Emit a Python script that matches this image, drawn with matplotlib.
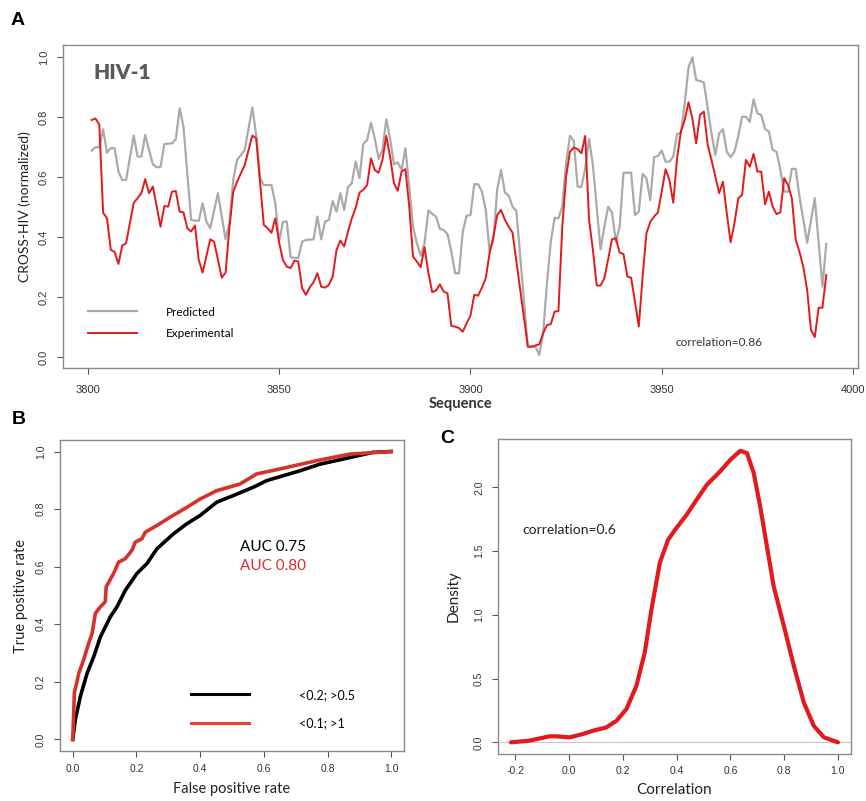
import matplotlib
matplotlib.use("Agg")
import matplotlib.pyplot as plt
from matplotlib.lines import Line2D

# ---- panel A: CROSS-HIV profile, HIV-1 region 3800-4000 ----
exp_pos = [3801, 3802, 3803, 3804, 3805, 3806, 3807, 3808, 3809, 3810, 3812, 3813, 3814, 3815,
           3816, 3817, 3819, 3820, 3821, 3822, 3823, 3824, 3825, 3826, 3827, 3828, 3829, 3830,
           3832, 3833, 3835, 3836, 3837, 3838, 3839, 3840, 3841, 3843, 3844, 3846, 3847, 3848,
           3849, 3850, 3851, 3852, 3853, 3854, 3855, 3856, 3857, 3858, 3859, 3860, 3861, 3862,
           3863, 3864, 3865, 3866, 3867, 3868, 3869, 3870, 3871, 3872, 3873, 3874, 3875, 3876,
           3877, 3878, 3879, 3880, 3881, 3882, 3883, 3884, 3885, 3886, 3887, 3888, 3889, 3890,
           3891, 3892, 3893, 3894, 3895, 3896, 3897, 3898, 3899, 3900, 3901, 3902, 3903, 3904,
           3905, 3906, 3907, 3908, 3909, 3910, 3911, 3915, 3916, 3918, 3919, 3920, 3921, 3922,
           3923, 3924, 3925, 3926, 3927, 3928, 3929, 3930, 3931, 3932, 3933, 3934, 3935, 3936,
           3937, 3938, 3939, 3940, 3941, 3942, 3943, 3944, 3945, 3946, 3947, 3948, 3949, 3950,
           3951, 3952, 3953, 3954, 3955, 3956, 3957, 3958, 3959, 3960, 3961, 3962, 3963, 3964,
           3965, 3966, 3967, 3968, 3969, 3970, 3971, 3972, 3973, 3974, 3975, 3976, 3977, 3978,
           3979, 3980, 3981, 3982, 3983, 3984, 3985, 3986, 3987, 3988, 3989, 3990, 3991, 3992,
           3993]
exp_val = [0.79, 0.795, 0.775, 0.48, 0.463, 0.357, 0.35, 0.31, 0.371, 0.379, 0.514, 0.529, 0.546, 0.593,
           0.546, 0.568, 0.434, 0.503, 0.501, 0.551, 0.553, 0.484, 0.482, 0.429, 0.418, 0.438, 0.323, 0.281,
           0.392, 0.384, 0.264, 0.281, 0.43, 0.55, 0.584, 0.612, 0.64, 0.738, 0.729, 0.44, 0.429, 0.414,
           0.462, 0.381, 0.323, 0.301, 0.296, 0.321, 0.318, 0.229, 0.207, 0.232, 0.249, 0.279, 0.234, 0.231,
           0.24, 0.268, 0.357, 0.388, 0.368, 0.418, 0.462, 0.496, 0.548, 0.557, 0.573, 0.662, 0.623, 0.614,
           0.657, 0.737, 0.668, 0.579, 0.554, 0.618, 0.626, 0.501, 0.334, 0.318, 0.299, 0.366, 0.281, 0.216,
           0.221, 0.242, 0.218, 0.212, 0.103, 0.101, 0.096, 0.084, 0.112, 0.137, 0.207, 0.204, 0.231, 0.262,
           0.346, 0.401, 0.473, 0.49, 0.457, 0.434, 0.414, 0.034, 0.034, 0.042, 0.079, 0.106, 0.109, 0.151,
           0.153, 0.434, 0.601, 0.684, 0.698, 0.693, 0.679, 0.737, 0.457, 0.357, 0.238, 0.238, 0.262, 0.326,
           0.392, 0.396, 0.348, 0.343, 0.268, 0.264, 0.184, 0.101, 0.268, 0.412, 0.45, 0.468, 0.482, 0.551,
           0.626, 0.59, 0.514, 0.662, 0.751, 0.79, 0.849, 0.795, 0.712, 0.807, 0.818, 0.707, 0.657, 0.601,
           0.546, 0.584, 0.479, 0.382, 0.446, 0.529, 0.54, 0.657, 0.634, 0.677, 0.618, 0.618, 0.509, 0.551,
           0.501, 0.476, 0.482, 0.596, 0.573, 0.529, 0.392, 0.35, 0.3, 0.223, 0.09, 0.066, 0.164, 0.164,
           0.273]

pred_pos = [3801, 3802, 3803, 3804, 3805, 3806, 3807, 3808, 3809, 3810, 3812, 3813, 3814, 3815,
            3816, 3817, 3818, 3819, 3820, 3822, 3823, 3824, 3825, 3827, 3828, 3829, 3830, 3831,
            3832, 3834, 3836, 3837, 3838, 3839, 3840, 3841, 3842, 3843, 3844, 3845, 3846, 3848,
            3849, 3850, 3851, 3852, 3853, 3855, 3856, 3857, 3859, 3860, 3861, 3862, 3863, 3864,
            3865, 3866, 3867, 3868, 3869, 3870, 3871, 3872, 3873, 3874, 3875, 3876, 3877, 3878,
            3879, 3880, 3881, 3882, 3883, 3884, 3885, 3886, 3887, 3888, 3889, 3890, 3891, 3892,
            3893, 3894, 3895, 3896, 3897, 3898, 3899, 3900, 3901, 3902, 3903, 3904, 3905, 3906,
            3907, 3908, 3909, 3910, 3911, 3912, 3915, 3916, 3917, 3918, 3919, 3920, 3921, 3922,
            3923, 3924, 3925, 3926, 3927, 3928, 3929, 3930, 3931, 3932, 3934, 3935, 3936, 3937,
            3938, 3939, 3940, 3942, 3943, 3944, 3945, 3946, 3947, 3948, 3949, 3950, 3951, 3952,
            3953, 3954, 3955, 3956, 3957, 3958, 3959, 3960, 3961, 3962, 3963, 3964, 3965, 3966,
            3967, 3968, 3969, 3970, 3971, 3972, 3973, 3974, 3975, 3976, 3977, 3978, 3979, 3980,
            3981, 3982, 3983, 3984, 3985, 3986, 3988, 3990, 3992, 3993]
pred_val = [0.688, 0.699, 0.699, 0.759, 0.681, 0.696, 0.696, 0.618, 0.59, 0.59, 0.738, 0.668, 0.668, 0.74,
            0.69, 0.642, 0.632, 0.634, 0.71, 0.712, 0.726, 0.829, 0.768, 0.457, 0.454, 0.454, 0.512, 0.451,
            0.429, 0.546, 0.392, 0.446, 0.59, 0.657, 0.673, 0.69, 0.762, 0.832, 0.74, 0.596, 0.573, 0.573,
            0.512, 0.384, 0.451, 0.451, 0.332, 0.329, 0.384, 0.39, 0.392, 0.468, 0.392, 0.451, 0.457, 0.52,
            0.484, 0.546, 0.49, 0.566, 0.579, 0.651, 0.596, 0.71, 0.723, 0.781, 0.729, 0.66, 0.69, 0.792,
            0.729, 0.642, 0.649, 0.623, 0.696, 0.568, 0.434, 0.379, 0.337, 0.379, 0.488, 0.477, 0.468, 0.427,
            0.423, 0.41, 0.351, 0.279, 0.279, 0.418, 0.471, 0.473, 0.576, 0.576, 0.551, 0.49, 0.351, 0.39,
            0.559, 0.623, 0.548, 0.538, 0.501, 0.487, 0.034, 0.034, 0.034, 0.007, 0.079, 0.246, 0.384, 0.464,
            0.462, 0.501, 0.646, 0.737, 0.721, 0.568, 0.566, 0.629, 0.726, 0.64, 0.359, 0.434, 0.501, 0.481,
            0.384, 0.434, 0.614, 0.614, 0.473, 0.484, 0.61, 0.596, 0.523, 0.666, 0.67, 0.688, 0.651, 0.651,
            0.668, 0.743, 0.748, 0.846, 0.965, 0.999, 0.923, 0.92, 0.915, 0.829, 0.745, 0.673, 0.745, 0.759,
            0.684, 0.666, 0.684, 0.737, 0.801, 0.801, 0.784, 0.859, 0.812, 0.807, 0.76, 0.751, 0.69, 0.684,
            0.623, 0.551, 0.551, 0.627, 0.627, 0.534, 0.381, 0.529, 0.234, 0.377]

seq_ticks = [3800, 3850, 3900, 3950, 4000]
a_yticks = [0.0, 0.2, 0.4, 0.6, 0.8, 1.0]

# ---- panel B: ROC curves ----
fpr_black = [0.0, 0.008, 0.024, 0.045, 0.066, 0.087, 0.118, 0.139, 0.165, 0.201, 0.233, 0.264,
             0.316, 0.358, 0.4, 0.452, 0.504, 0.567, 0.609, 0.661, 0.713, 0.776, 0.87, 0.942, 1.0]
tpr_black = [0.0, 0.069, 0.15, 0.23, 0.288, 0.357, 0.426, 0.461, 0.518, 0.576, 0.611, 0.662,
             0.714, 0.749, 0.778, 0.824, 0.847, 0.876, 0.899, 0.916, 0.933, 0.956, 0.979, 0.997, 1.0]
fpr_red = [0.0, 0.005, 0.019, 0.034, 0.05, 0.061, 0.071, 0.087, 0.102, 0.105, 0.128, 0.144, 0.165,
           0.186, 0.196, 0.217, 0.228, 0.264, 0.306, 0.358, 0.4, 0.452, 0.525, 0.577, 0.661, 0.765,
           0.87, 1.0]
tpr_red = [0.0, 0.161, 0.23, 0.276, 0.334, 0.369, 0.438, 0.461, 0.478, 0.53, 0.576, 0.616, 0.628,
           0.657, 0.685, 0.697, 0.72, 0.743, 0.772, 0.806, 0.835, 0.864, 0.887, 0.922, 0.942, 0.968,
           0.991, 1.0]
roc_labels = ["<0.2; >0.5", "<0.1; >1"]
auc_labels = ["AUC 0.75", "AUC 0.80"]
unit_ticks = [0.0, 0.2, 0.4, 0.6, 0.8, 1.0]

# ---- panel C: density of correlations ----
corr_x = [-0.215, -0.147, -0.072, -0.047, 0.003, 0.052, 0.09, 0.139, 0.177, 0.214, 0.251, 0.282,
          0.307, 0.338, 0.369, 0.4, 0.438, 0.475, 0.513, 0.562, 0.6, 0.637, 0.662, 0.687, 0.711,
          0.736, 0.761, 0.799, 0.836, 0.873, 0.91, 0.948, 1.0]
corr_dens = [0.0, 0.013, 0.047, 0.047, 0.039, 0.065, 0.091, 0.117, 0.169, 0.261, 0.443, 0.704,
             1.043, 1.408, 1.59, 1.682, 1.786, 1.904, 2.021, 2.125, 2.216, 2.287, 2.269, 2.112, 1.851,
             1.538, 1.226, 0.913, 0.6, 0.313, 0.13, 0.039, 0.0]
c_xticks = [-0.2, 0.0, 0.2, 0.4, 0.6, 0.8, 1.0]
c_yticks = [0.0, 0.5, 1.0, 1.5, 2.0]

TXT = ["Lato", "DejaVu Sans"]
TICK = ["Liberation Sans", "DejaVu Sans"]
RED = "#e3191c"
FRAME = "#8a8a8a"


def style_axes(ax, tick_size=8):
    for s in ax.spines.values():
        s.set_color(FRAME)
        s.set_linewidth(1.0)
    ax.tick_params(direction="out", length=4, width=0.8, color="#555555",
                   labelsize=tick_size, labelcolor="#333333")
    ax.tick_params(axis="y", labelrotation=90)
    for lab in ax.get_yticklabels():
        lab.set_va("center")
        lab.set_family(TICK)
    for lab in ax.get_xticklabels():
        lab.set_family(TICK)


fig = plt.figure(figsize=(8.66, 8.01), dpi=100)

# panel A
axA = fig.add_axes([0.0727, 0.5406, 0.9181, 0.4032])
axA.plot(pred_pos, pred_val, color="#aaaaaa", lw=1.6, label="Predicted")
axA.plot(exp_pos, exp_val, color=RED, lw=1.4, label="Experimental")
axA.set_xlim(3793.5, 4001.3)
axA.set_ylim(-0.037, 1.04)
axA.set_xticks(seq_ticks)
axA.set_yticks(a_yticks)
axA.set_xticklabels([str(t) for t in seq_ticks])
axA.set_yticklabels(["%.1f" % t for t in a_yticks])
style_axes(axA, 8)
axA.tick_params(axis="x", pad=8)
axA.tick_params(axis="y", pad=6)
axA.set_xlabel("Sequence", family=TXT, fontsize=10.5, fontweight="bold", color="#333333", labelpad=2)
axA.set_ylabel("CROSS-HIV (normalized)", family=TXT, fontsize=10, color="#222222", labelpad=6)
axA.text(0.038, 0.916, "HIV-1", transform=axA.transAxes, family=TXT, fontsize=15,
         fontweight="heavy", color="#5a5a5a", va="center")
axA.text(0.771, 0.08, "correlation=0.86", transform=axA.transAxes, family=TXT, fontsize=8.5,
         color="#333333", va="center")
axA.legend(loc="upper left", bbox_to_anchor=(0.031, 0.19), frameon=False, fontsize=8.5,
           prop={"family": TXT, "size": 8.5}, handlelength=4.2, handletextpad=2.4,
           labelspacing=0.85, borderpad=0, borderaxespad=0)

# panel B
axB = fig.add_axes([0.0693, 0.0624, 0.3972, 0.3883])
axB.plot(fpr_black, tpr_black, color="black", lw=2.6, label=roc_labels[0])
axB.plot(fpr_red, tpr_red, color="#d8302a", lw=2.6, label=roc_labels[1])
axB.set_xlim(-0.04, 1.04)
axB.set_ylim(-0.04, 1.04)
axB.set_xticks(unit_ticks)
axB.set_yticks(unit_ticks)
axB.set_xticklabels(["%.1f" % t for t in unit_ticks])
axB.set_yticklabels(["%.1f" % t for t in unit_ticks])
style_axes(axB, 7.5)
axB.tick_params(axis="x", pad=5)
axB.tick_params(axis="y", pad=6)
axB.set_xlabel("False positive rate", family=TXT, fontsize=10.5, color="#222222", labelpad=6)
axB.set_ylabel("True positive rate", family=TXT, fontsize=10.5, color="#222222", labelpad=6)
axB.text(0.523, 0.656, auc_labels[0], transform=axB.transAxes, family=TXT, fontsize=11,
         color="black", va="center")
axB.text(0.523, 0.595, auc_labels[1], transform=axB.transAxes, family=TXT, fontsize=11,
         color="#d8302a", va="center")
leg_handles = [Line2D([], [], color="black", lw=2.2), Line2D([], [], color="#e04a30", lw=2.2)]
axB.legend(leg_handles, roc_labels, loc="upper left", bbox_to_anchor=(0.381, 0.2), frameon=False,
           prop={"family": TXT, "size": 9}, handlelength=4.6, handletextpad=4.0,
           labelspacing=1.3, borderpad=0, borderaxespad=0)

# panel C
axC = fig.add_axes([0.575, 0.0587, 0.4077, 0.3933])
axC.axhline(0, color="#c8c8c8", lw=0.8)
axC.plot(corr_x, corr_dens, color=RED, lw=3.0, solid_capstyle="round", solid_joinstyle="round")
axC.set_xlim(-0.2636, 1.0486)
axC.set_ylim(-0.0915, 2.38)
axC.set_xticks(c_xticks)
axC.set_yticks(c_yticks)
axC.set_xticklabels(["%.1f" % t for t in c_xticks])
axC.set_yticklabels(["%.1f" % t for t in c_yticks])
style_axes(axC, 7.5)
axC.tick_params(axis="x", pad=5)
axC.tick_params(axis="y", pad=6)
axC.set_xlabel("Correlation", family=TXT, fontsize=11, color="#222222", labelpad=5)
axC.set_ylabel("Density", family=TXT, fontsize=11, color="#222222", labelpad=10)
axC.text(0.068, 0.711, "correlation=0.6", transform=axC.transAxes, family=TXT, fontsize=10,
         color="#222222", va="center")

# panel letters
for letter, (px, py) in zip("ABC", [(0.012, 0.975), (0.014, 0.476), (0.508, 0.453)]):
    fig.text(px, py, letter, family=["Liberation Sans", "DejaVu Sans"], fontsize=14,
             fontweight="bold", va="center")

fig.savefig("out.png", dpi=100)
